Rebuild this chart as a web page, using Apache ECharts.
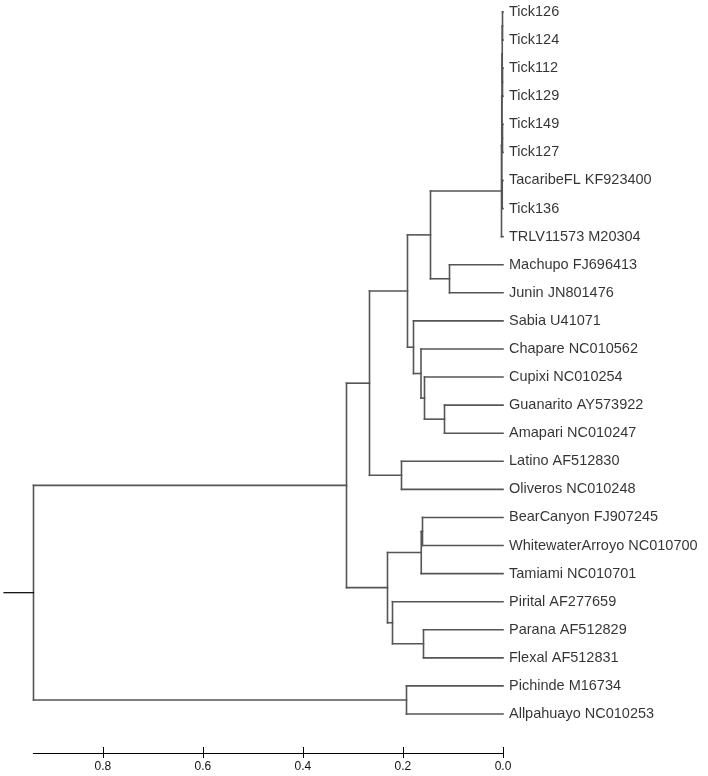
<!DOCTYPE html>
<html>
<head>
<meta charset="utf-8">
<script src="https://cdn.jsdelivr.net/npm/echarts@6/dist/echarts.min.js"></script>
<style>
html,body{margin:0;padding:0;background:#fff;}
#chart{width:708px;height:776px;}
</style>
</head>
<body>
<div id="chart"></div>
<script>
// Leaf names, top to bottom
const leaves = [
  'Tick126','Tick124','Tick112','Tick129','Tick149','Tick127',
  'TacaribeFL KF923400','Tick136','TRLV11573 M20304',
  'Machupo FJ696413','Junin JN801476','Sabia U41071','Chapare NC010562',
  'Cupixi NC010254','Guanarito AY573922','Amapari NC010247',
  'Latino AF512830','Oliveros NC010248','BearCanyon FJ907245',
  'WhitewaterArroyo NC010700','Tamiami NC010701','Pirital AF277659',
  'Parana AF512829','Flexal AF512831','Pichinde M16734','Allpahuayo NC010253'
];
// Internal nodes: [id, first child, second child]
const nodeIds = ['a1','a2','a3','a4','a5','a6','a7','Tac','MJ','TMJ','GA','CGA','CCGA','SCCGA','N1','LO','N2','BW','BWT','PF','PPF','N3','N4','PA','root'];
const nodeChildren = [
  ['Tick126','Tick124'],['Tick112','Tick129'],['a1','a2'],['Tick149','Tick127'],['a3','a4'],
  ['TacaribeFL KF923400','Tick136'],['a5','a6'],['a7','TRLV11573 M20304'],
  ['Machupo FJ696413','Junin JN801476'],['Tac','MJ'],
  ['Guanarito AY573922','Amapari NC010247'],['Cupixi NC010254','GA'],['Chapare NC010562','CGA'],
  ['Sabia U41071','CCGA'],['TMJ','SCCGA'],['Latino AF512830','Oliveros NC010248'],['N1','LO'],
  ['BearCanyon FJ907245','WhitewaterArroyo NC010700'],['BW','Tamiami NC010701'],
  ['Parana AF512829','Flexal AF512831'],['Pirital AF277659','PF'],['BWT','PPF'],['N2','N3'],
  ['Pichinde M16734','Allpahuayo NC010253'],['N4','PA']
];
// Node heights (distance units on the axis)
const nodeHeights = [0.001,0.001,0.0015,0.001,0.002,0.0015,0.0025,0.003,0.107,0.145,
  0.117,0.157,0.164,0.179,0.191,0.203,0.267,0.161,0.1635,0.159,0.221,0.231,0.313,0.193,0.939];
const rootStubHeight = 0.998;
const axisMax = 0.939;
const tickValues = [0, 0.2, 0.4, 0.6, 0.8];

// Build positions
const pos = {};
leaves.forEach((n, i) => { pos[n] = {h: 0, y: i}; });
nodeIds.forEach((id, i) => {
  const [c1, c2] = nodeChildren[i];
  pos[id] = {h: nodeHeights[i], y: (pos[c1].y + pos[c2].y) / 2};
});
const edges = [];
nodeIds.forEach((id, i) => {
  const p = pos[id];
  const [c1, c2] = nodeChildren[i];
  edges.push([p.h, pos[c1].y, p.h, pos[c2].y, 0]);
  [c1, c2].forEach(c => edges.push([p.h, pos[c].y, pos[c].h, pos[c].y, 0]));
});
edges.push([rootStubHeight, pos.root.y, pos.root.h, pos.root.y, 1]);

const chart = echarts.init(document.getElementById('chart'), null, {renderer: 'canvas'});
const FONT = '"Liberation Sans", Arial, sans-serif';
chart.setOption({
  animation: false,
  backgroundColor: '#fff',
  grid: [
    {left: 3, width: 500, top: 12, height: 702},
    {left: 33.3, right: 205, top: 700, height: 53}
  ],
  xAxis: [
    {gridIndex: 0, type: 'value', inverse: true, min: 0, max: 1.0, show: false},
    {gridIndex: 1, type: 'value', inverse: true, min: 0, max: axisMax, position: 'bottom',
     axisLine: {show: true, lineStyle: {color: '#000', width: 1}},
     axisTick: {show: true, length: 5, customValues: tickValues, lineStyle: {color: '#000', width: 1}},
     axisLabel: {show: true, customValues: tickValues, formatter: v => v.toFixed(1), fontSize: 12,
       fontFamily: FONT, color: '#111', margin: 8},
     splitLine: {show: false}},
    {gridIndex: 1, type: 'value', inverse: true, min: 0, max: axisMax, position: 'bottom', offset: -6,
     axisLine: {show: false},
     axisTick: {show: true, length: 6, customValues: tickValues, lineStyle: {color: '#000', width: 1}},
     axisLabel: {show: false}, splitLine: {show: false}}
  ],
  yAxis: [
    {gridIndex: 0, type: 'value', inverse: true, min: 0, max: leaves.length - 1, show: false},
    {gridIndex: 1, type: 'value', show: false}
  ],
  series: [
    {
      type: 'custom', xAxisIndex: 0, yAxisIndex: 0, clip: false,
      data: edges,
      renderItem: function (params, api) {
        const a = api.coord([api.value(0), api.value(1)]);
        const b = api.coord([api.value(2), api.value(3)]);
        const stub = api.value(4) === 1;
        return {
          type: 'line',
          shape: {x1: a[0], y1: a[1], x2: b[0], y2: b[1]},
          style: {stroke: stub ? '#000' : '#555', lineWidth: stub ? 1.2 : 1.6, lineCap: 'square'}
        };
      }
    },
    {
      type: 'scatter', xAxisIndex: 0, yAxisIndex: 0, symbolSize: 0,
      data: leaves.map((n, i) => ({value: [0, i], name: n})),
      label: {show: true, position: 'right', distance: 6, formatter: p => p.name,
        fontSize: 14.5, fontFamily: FONT, color: '#000'}
    }
  ]
});
</script>
</body>
</html>
